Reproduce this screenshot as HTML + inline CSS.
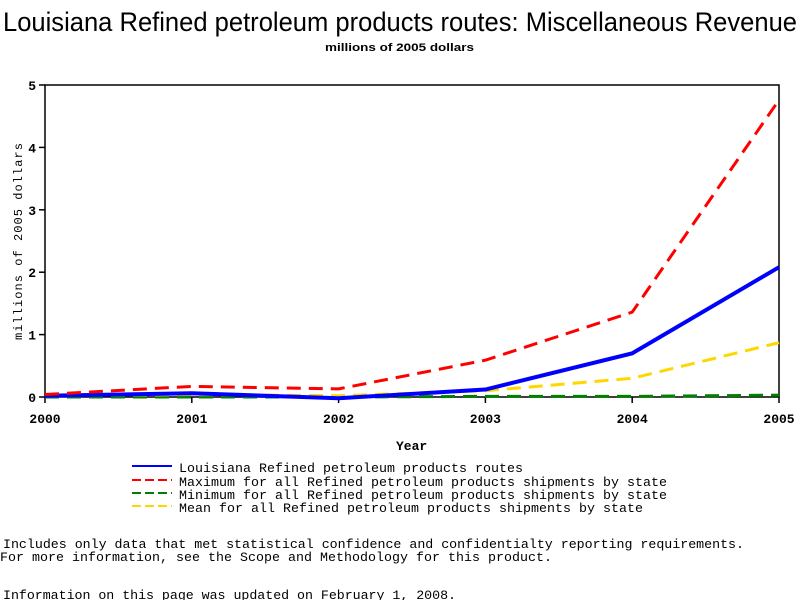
<!DOCTYPE html>
<html><head><meta charset="utf-8"><style>body{margin:0;background:#fff}svg{display:block}</style></head>
<body>
<svg id="chart" width="800" height="600" xmlns="http://www.w3.org/2000/svg" font-family="Liberation Mono, monospace">
<text x="3" y="31" font-family="Liberation Sans, sans-serif" font-size="27" textLength="794" lengthAdjust="spacingAndGlyphs">Louisiana Refined petroleum products routes: Miscellaneous Revenue</text>
<text x="325" y="51" font-family="Liberation Sans, sans-serif" font-weight="bold" font-size="11" textLength="149" lengthAdjust="spacingAndGlyphs">millions of 2005 dollars</text>
<rect x="45" y="85" width="734" height="312" fill="none" stroke="#000" stroke-width="1.5"/>
<g id="xticks"></g><g id="yticks"></g><g id="series"></g>
<text x="396" y="450" font-size="13" font-weight="bold">Year</text>
<text transform="translate(22,340) rotate(-90)" font-size="12" textLength="197" lengthAdjust="spacing">millions of 2005 dollars</text>
<g font-size="13.3">
<line x1="132" y1="466" x2="172" y2="466" stroke="#0000ff" stroke-width="2"/>
<text x="179" y="472" textLength="344">Louisiana Refined petroleum products routes</text>
<line x1="132" y1="480" x2="172" y2="480" stroke="#ff0000" stroke-width="2" stroke-dasharray="9,4"/>
<text x="179" y="486" textLength="488">Maximum for all Refined petroleum products shipments by state</text>
<line x1="132" y1="493" x2="172" y2="493" stroke="#008000" stroke-width="2" stroke-dasharray="9,4"/>
<text x="179" y="499" textLength="488">Minimum for all Refined petroleum products shipments by state</text>
<line x1="132" y1="506" x2="172" y2="506" stroke="#ffd700" stroke-width="2" stroke-dasharray="9,4"/>
<text x="179" y="512" textLength="464">Mean for all Refined petroleum products shipments by state</text>
</g>
<g font-size="13.3">
<text x="3" y="548" textLength="741">Includes only data that met statistical confidence and confidentialty reporting requirements.</text>
<text x="0" y="561" textLength="552">For more information, see the Scope and Methodology for this product.</text>
<text x="3" y="599" textLength="453">Information on this page was updated on February 1, 2008.</text>
</g>
</svg>
<script>
const years = [2000, 2001, 2002, 2003, 2004, 2005];
const yTicks = [0, 1, 2, 3, 4, 5];
const louisiana = [0.02, 0.06, -0.02, 0.12, 0.70, 2.08];
const maximum = [0.04, 0.17, 0.13, 0.59, 1.36, 4.76];
const minimum = [0.0, 0.0, 0.0, 0.01, 0.01, 0.03];
const mean = [0.02, 0.04, 0.02, 0.10, 0.30, 0.87];
const NS = 'http://www.w3.org/2000/svg';
const X0 = 45, X1 = 779, Y0 = 397, Y1 = 85;
function xs(v){return X0 + (v - years[0])/(years[years.length-1]-years[0])*(X1-X0);}
function ys(v){return Y0 - (v - 0)/5*(Y0-Y1);}
function mk(tag, attrs, parent){const e=document.createElementNS(NS,tag);for(const k in attrs)e.setAttribute(k,attrs[k]);parent.appendChild(e);return e;}
const xg=document.getElementById('xticks'), yg=document.getElementById('yticks'), sg=document.getElementById('series');
years.forEach(y=>{
  const l=mk('line',{x1:xs(y),x2:xs(y),y1:Y0,y2:Y0+6,stroke:'#000','stroke-width':1.5},xg);
  
  
  const t=mk('text',{x:xs(y),y:423,'text-anchor':'middle','font-size':13,'font-weight':'bold'},xg);
  
  
  t.textContent=y;
});
yTicks.forEach(v=>{
  const l=mk('line',{x1:X0-6,x2:X0,y1:ys(v),y2:ys(v),stroke:'#000','stroke-width':1.5},yg);
  
  
  const t=mk('text',{x:36,y:ys(v)+5,'text-anchor':'end','font-size':13,'font-weight':'bold'},yg);
  
  
  t.textContent=v;
});
function line(vals,color,dash,w,name){
  const p=mk('polyline',{points:vals.map((v,i)=>xs(years[i])+','+ys(v)).join(' '),fill:'none',stroke:color,'stroke-width':w,'stroke-dasharray':dash},sg);
  
  
}
line(minimum,'#008000','14,8',3,'series-minimum');
line(mean,'#ffd700','14,8',3,'series-mean');
line(louisiana,'#0000ff','none',4,'series-louisiana');
line(maximum,'#ff0000','14,8',3,'series-maximum');
</script>
</body></html>
